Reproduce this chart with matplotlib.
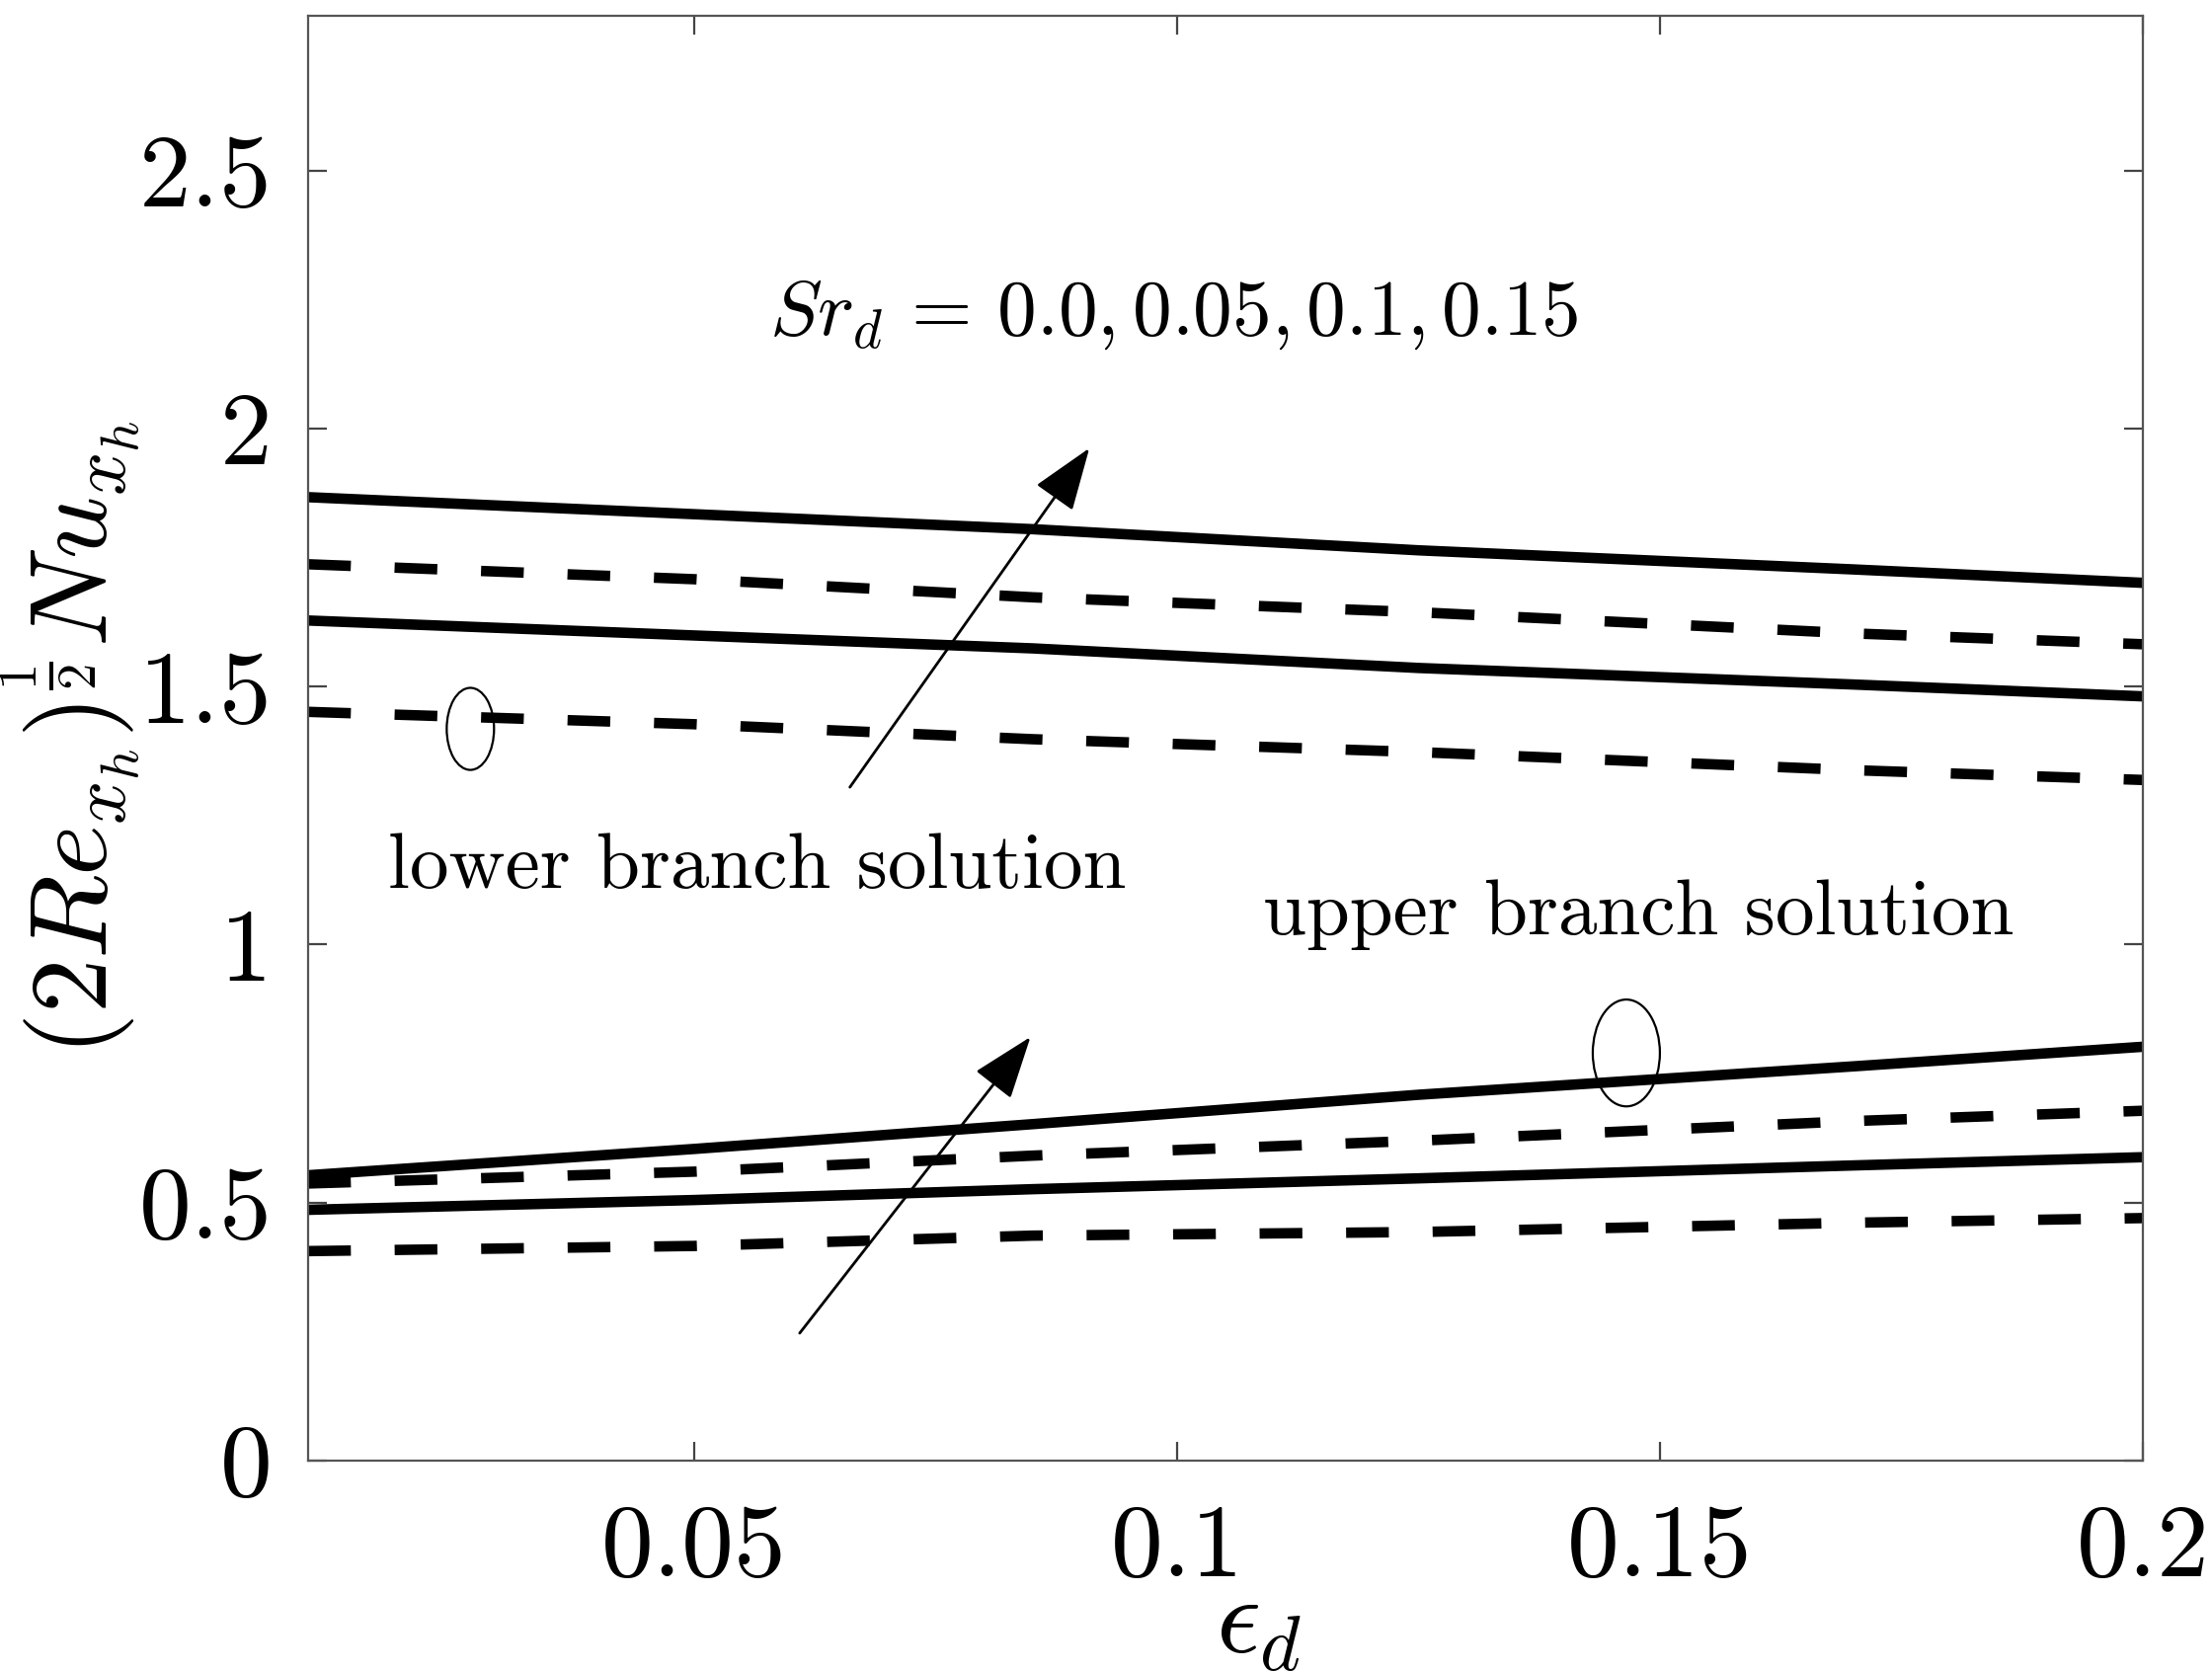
import matplotlib
matplotlib.use("Agg")
import matplotlib.pyplot as plt
from matplotlib.patches import Ellipse

plt.rcParams["mathtext.fontset"] = "cm"
plt.rcParams["font.family"] = "cmr10"
plt.rcParams["axes.formatter.use_mathtext"] = True

# values
eps_d = [0.01, 0.05, 0.085, 0.125, 0.17, 0.2]

# lower branch (top group of curves), bottom -> top
lower_sr00 = [1.451, 1.427, 1.398, 1.373, 1.338, 1.319]
lower_sr05 = [1.628, 1.599, 1.574, 1.536, 1.504, 1.481]
lower_sr10 = [1.737, 1.708, 1.673, 1.644, 1.603, 1.582]
lower_sr15 = [1.867, 1.834, 1.805, 1.764, 1.727, 1.701]

# upper branch (bottom group of curves), bottom -> top
upper_sr00 = [0.406, 0.416, 0.436, 0.443, 0.461, 0.470]
upper_sr05 = [0.486, 0.505, 0.526, 0.547, 0.572, 0.588]
upper_sr10 = [0.537, 0.560, 0.591, 0.620, 0.658, 0.678]
upper_sr15 = [0.553, 0.604, 0.652, 0.709, 0.764, 0.802]

x_ticks = [0.05, 0.1, 0.15, 0.2]
x_tick_labels = ["0.05", "0.1", "0.15", "0.2"]
y_ticks = [0, 0.5, 1, 1.5, 2, 2.5]
y_tick_labels = ["0", "0.5", "1", "1.5", "2", "2.5"]

fig = plt.figure(figsize=(11.2, 8.46), dpi=200)
ax = fig.add_axes([0.1393, 0.1259, 0.8295, 0.8647])

LW = 3.8
DASH = (0, (4.1, 4.2))
for ys, style in [(lower_sr00, DASH), (lower_sr05, "-"),
                  (lower_sr10, DASH), (lower_sr15, "-"),
                  (upper_sr00, DASH), (upper_sr05, "-"),
                  (upper_sr10, DASH), (upper_sr15, "-")]:
    ax.plot(eps_d, ys, color="black", lw=LW, linestyle=style,
            solid_capstyle="butt", dash_capstyle="butt")

ax.set_xlim(0.01, 0.2)
ax.set_ylim(0, 2.8)
ax.set_xticks(x_ticks)
ax.set_xticklabels(x_tick_labels)
ax.set_yticks(y_ticks)
ax.set_yticklabels(y_tick_labels)
ax.tick_params(direction="in", length=6.9, width=0.8, color="#444444",
               top=True, right=True, labelsize=38)
ax.tick_params(axis="x", pad=16)
ax.tick_params(axis="y", pad=13)
for sp in ax.spines.values():
    sp.set_color("#555555")
    sp.set_linewidth(0.8)

ax.set_xlabel(r"$\epsilon_d$", fontsize=40)
ax.xaxis.set_label_coords(0.518, -0.080)
ax.set_ylabel(r"$(2Re_{x_h})^{\frac{1}{2}}Nu_{x_h}$", fontsize=40)
ax.yaxis.set_label_coords(-0.090, 0.5)

ax.text(0.0578, 2.183, r"$Sr_d\,=\,0.0, 0.05, 0.1, 0.15$", fontsize=28.5,
        ha="left", va="baseline")
ax.text(0.0183, 1.11, "lower branch solution", fontsize=28.5,
        ha="left", va="baseline")
ax.text(0.1089, 1.02, "upper branch solution", fontsize=28.5,
        ha="left", va="baseline")

arrow = dict(arrowstyle="-|>,head_length=1.0,head_width=0.36",
             mutation_scale=20, color="black", lw=1.0,
             shrinkA=0, shrinkB=0)
ax.annotate("", xy=(0.0909, 1.962), xytext=(0.0661, 1.305),
            arrowprops=arrow)
ax.annotate("", xy=(0.0848, 0.821), xytext=(0.0609, 0.247),
            arrowprops=arrow)

ax.add_patch(Ellipse((0.0268, 1.418), 0.0049, 0.159, fill=False,
                     lw=0.8, color="black"))
ax.add_patch(Ellipse((0.1465, 0.790), 0.00695, 0.207, fill=False,
                     lw=0.8, color="black"))

fig.savefig("out.png", dpi=200)
